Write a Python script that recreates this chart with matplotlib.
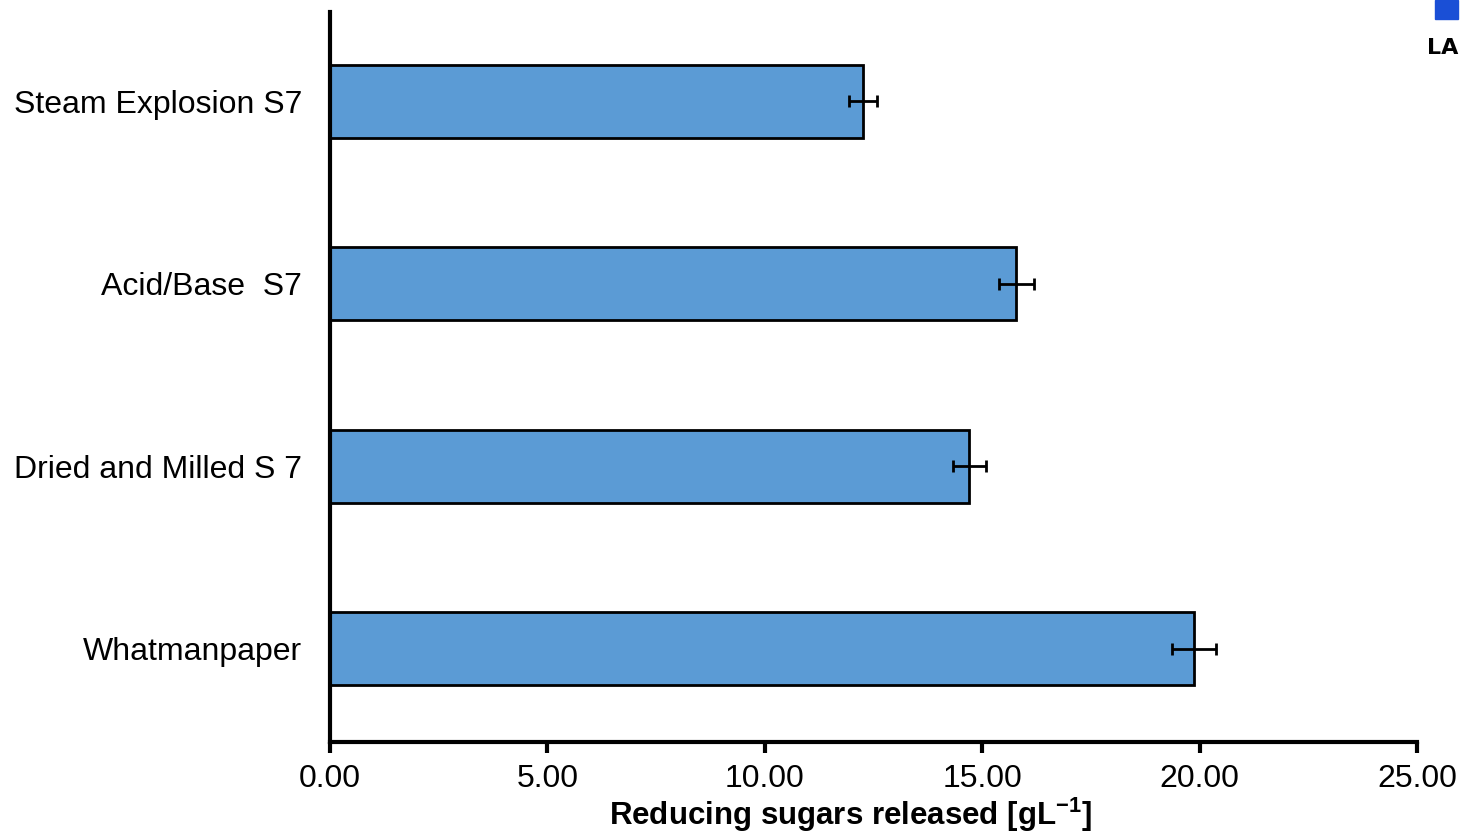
import matplotlib.pyplot as plt
from matplotlib.patches import Rectangle

# dados
categorias = ['Whatmanpaper', 'Dried and Milled S 7', 'Acid/Base  S7', 'Steam Explosion S7']
valores = [19.87, 14.70, 15.78, 12.26]
erros = [0.50, 0.38, 0.40, 0.32]
ticks_x = [0, 5, 10, 15, 20, 25]
rotulos_x = ['0.00', '5.00', '10.00', '15.00', '20.00', '25.00']

plt.rcParams['font.family'] = ['Liberation Sans', 'DejaVu Sans']
plt.rcParams['mathtext.fontset'] = 'custom'
plt.rcParams['mathtext.bf'] = 'Liberation Sans:bold'

fig = plt.figure(figsize=(14.61, 8.36), dpi=100)
ax = fig.add_axes([0.2259, 0.1124, 0.7440, 0.8732])

ax.barh(range(len(categorias)), valores, height=0.4, color='#5b9bd5',
        edgecolor='black', linewidth=2, zorder=2)
ax.errorbar(valores, range(len(categorias)), xerr=erros, fmt='none',
            ecolor='black', elinewidth=2, capsize=4, capthick=2, zorder=3)

ax.set_xlim(0, 25)
ax.set_ylim(-0.51, 3.49)
ax.set_xticks(ticks_x)
ax.set_xticklabels(rotulos_x, fontsize=23)
ax.set_yticks(range(len(categorias)))
ax.set_yticklabels(categorias, fontsize=23)
ax.tick_params(axis='y', length=0, pad=20)
ax.tick_params(axis='x', length=8, width=3, direction='out', pad=8)
for lado in ['top', 'right']:
    ax.spines[lado].set_visible(False)
for lado in ['left', 'bottom']:
    ax.spines[lado].set_linewidth(3)

ax.set_xlabel('Reducing sugars released [gL$^{\\mathbf{-1}}$]', fontsize=22.5,
              fontweight='bold')
ax.xaxis.set_label_coords(0.479, -0.074)
ax.xaxis.label.set_va('top')

# pedaço do logotipo no canto superior direito
fig.patches.append(Rectangle((1435 / 1461, 1 - 19 / 836), 23 / 1461, 19 / 836,
                             transform=fig.transFigure, color='#1a4fd6'))
fig.text(1458 / 1461, 1 - 48 / 836, 'LA', fontsize=16, fontweight='bold',
         ha='right', va='center', family='DejaVu Sans Condensed')

fig.savefig('out.png', dpi=100)
